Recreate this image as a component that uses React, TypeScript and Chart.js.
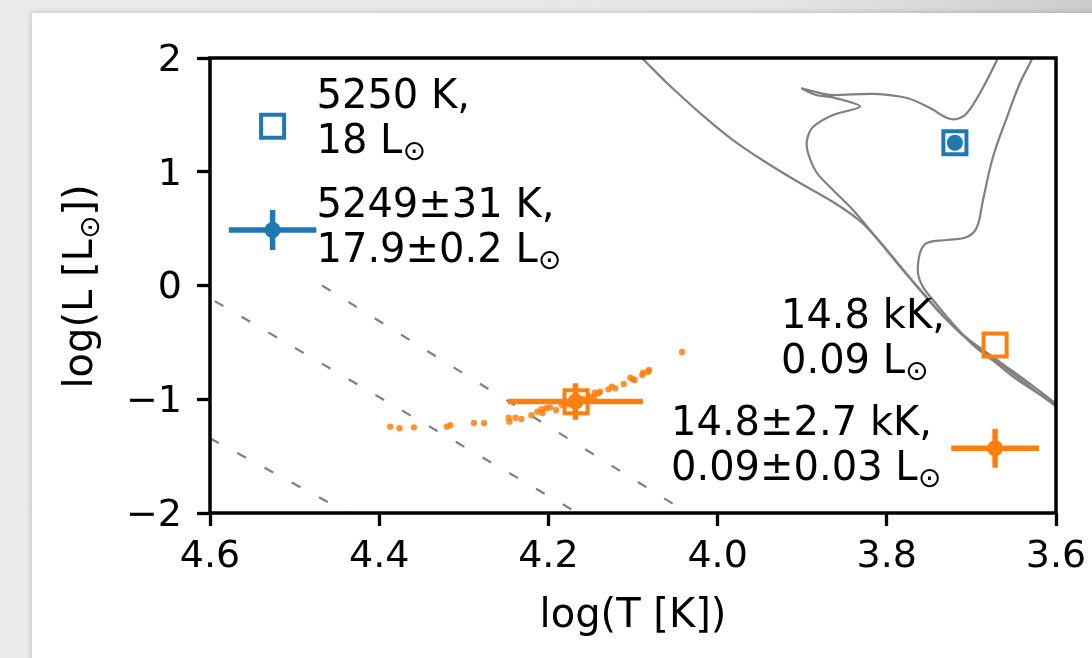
import React, { useEffect, useRef } from "react";
import { Chart, registerables } from "chart.js";

Chart.register(...registerables);

// ---------- axes ----------
const X_TICKS = [3.6, 3.8, 4.0, 4.2, 4.4, 4.6];
const Y_TICKS = [-2, -1, 0, 1, 2];
const X_TITLE = "log(T [K])";
const Y_TITLE = "log(L [L⊙])";

// ---------- evolutionary tracks [logT, logL] ----------
const TRACK_A: [number, number][] = [
  [4.0965, 2.053], [4.0882, 1.991], [4.0598, 1.78], [4.0208, 1.516], [3.9818, 1.279],
  [3.9416, 1.077], [3.9026, 0.901], [3.8636, 0.734], [3.8317, 0.567], [3.808, 0.382],
  [3.7844, 0.171], [3.7608, -0.04], [3.7336, -0.268], [3.7052, -0.462], [3.6662, -0.673],
  [3.6272, -0.884], [3.5976, -1.051],
];
const TRACK_B: [number, number][] = [
  [3.6674, 2.035], [3.6697, 1.982], [3.6898, 1.692], [3.7052, 1.516], [3.717, 1.464],
  [3.7288, 1.473], [3.7489, 1.56], [3.7761, 1.648], [3.8163, 1.684], [3.8671, 1.675],
  [3.8884, 1.71], [3.9002, 1.732], [3.8837, 1.675], [3.8636, 1.653], [3.8317, 1.574],
  [3.8636, 1.499], [3.8872, 1.393], [3.8943, 1.279], [3.8931, 1.165], [3.8825, 0.989],
  [3.8636, 0.84], [3.84, 0.664], [3.8199, 0.488], [3.8033, 0.338], [3.7809, 0.136],
  [3.7572, -0.066], [3.7312, -0.286], [3.704, -0.479], [3.6662, -0.69], [3.6272, -0.91],
  [3.5976, -1.077],
];
const TRACK_C: [number, number][] = [
  [3.6272, 2.035], [3.6284, 1.991], [3.6426, 1.78], [3.6579, 1.481], [3.6745, 1.13],
  [3.6863, 0.752], [3.6934, 0.514], [3.7052, 0.426], [3.7288, 0.4], [3.7525, 0.374],
  [3.7608, 0.286], [3.7631, 0.11], [3.7572, -0.013], [3.7454, -0.127], [3.7288, -0.277],
  [3.6981, -0.523], [3.6721, -0.673], [3.6485, -0.813], [3.5976, -1.059],
];

// ---------- dashed reference lines ----------
const REF_LINE_1: [number, number][] = [[4.6, -1.342], [4.437, -2.0]];
const REF_LINE_2: [number, number][] = [[4.626, 0.0], [4.1654, -2.0]];
const REF_LINE_3: [number, number][] = [[4.4676, 0.0], [4.0353, -2.0]];

// ---------- orange sample cloud ----------
const SAMPLE_T = [4.387, 4.376, 4.359, 4.32, 4.316, 4.288, 4.276, 4.247, 4.246, 4.239, 4.232, 4.22, 4.213, 4.208, 4.207, 4.202, 4.198, 4.191, 4.184, 4.178, 4.175, 4.159, 4.151, 4.145, 4.141, 4.146, 4.139, 4.129, 4.125, 4.121, 4.111, 4.103, 4.1, 4.098, 4.089, 4.088, 4.082, 4.081, 4.042];
const SAMPLE_L = [-1.241, -1.255, -1.247, -1.241, -1.229, -1.209, -1.209, -1.162, -1.197, -1.162, -1.174, -1.141, -1.109, -1.088, -1.121, -1.077, -1.071, -1.095, -1.051, -1.042, -1.033, -0.998, -0.978, -0.942, -0.948, -0.978, -0.934, -0.913, -0.89, -0.904, -0.866, -0.811, -0.825, -0.831, -0.787, -0.767, -0.758, -0.743, -0.585];

// ---------- input values (open squares) ----------
const TRUE_T = [3.7195, 4.1673];
const TRUE_L = [1.255, -1.0215];

// ---------- fitted values with errors ----------
const FIT_T = [3.7195, 4.168];
const FIT_L = [1.255, -1.02];
const FIT_DT = [0.0026, 0.0798];
const FIT_DL = [0.005, 0.161];

// ---------- key handles ----------
const KEY_SQUARE_T = [4.526, 3.672];
const KEY_SQUARE_L = [1.4, -0.523];
const KEY_ERR_T = [4.526, 3.672];
const KEY_ERR_L = [0.488, -1.431];
const KEY_ERR_DT = [0.0517, 0.0518];
const KEY_ERR_DL = [0.176, 0.171];

const SERIES_COLORS = ["#1f77b4", "#ff7f0e"];

// ---------- annotation texts ----------
const LABEL_LINES: string[][] = [
  ["5250 K,", "18 L⊙"],
  ["5249±31 K,", "17.9±0.2 L⊙"],
  ["14.8 kK,", "0.09 L⊙"],
  ["14.8±2.7 kK,", "0.09±0.03 L⊙"],
];
// layout: axes-fraction anchors (x from left, first baseline from top)
const LABEL_ANCHORS = [
  { fx: 0.1259, fy: 0.1105 },
  { fx: 0.1259, fy: 0.3501 },
  { fx: 0.6749, fy: 0.5941 },
  { fx: 0.5449, fy: 0.8286 },
];

const FONT = '"DejaVu Sans", "Liberation Sans", sans-serif';
const GRAY = "#808080";

function richWidth(ctx: CanvasRenderingContext2D, text: string, size: number) {
  const parts = text.split("⊙");
  let w = 0;
  parts.forEach((p, i) => {
    ctx.font = `${size}px ${FONT}`;
    w += ctx.measureText(p).width;
    if (i < parts.length - 1) {
      ctx.font = `${size * 0.7}px ${FONT}`;
      w += ctx.measureText("⊙").width;
    }
  });
  return w;
}

function drawRich(ctx: CanvasRenderingContext2D, text: string, x: number, y: number, size: number) {
  const parts = text.split("⊙");
  let cx = x;
  parts.forEach((p, i) => {
    ctx.font = `${size}px ${FONT}`;
    ctx.fillText(p, cx, y);
    cx += ctx.measureText(p).width;
    if (i < parts.length - 1) {
      ctx.font = `${size * 0.7}px ${FONT}`;
      const m = ctx.measureText("⊙");
      const a = m.actualBoundingBoxAscent;
      const d = m.actualBoundingBoxDescent;
      const yc = y - 2;
      ctx.fillText("⊙", cx, yc + (a - d) / 2);
      cx += m.width;
    }
  });
}

const decorPlugin = {
  id: "decor",
  afterDatasetsDraw(chart: any) {
    const { ctx, chartArea } = chart;
    const { left, top, right, bottom } = chartArea;
    ctx.save();
    // frame
    ctx.strokeStyle = "#000";
    ctx.lineWidth = 3.5;
    ctx.strokeRect(left, top, right - left, bottom - top);

    ctx.fillStyle = "#000";
    ctx.textAlign = "left";
    ctx.textBaseline = "alphabetic";
    const w = right - left;
    const h = bottom - top;
    LABEL_LINES.forEach((lines, i) => {
      const a = LABEL_ANCHORS[i];
      const x = left + a.fx * w;
      const y0 = top + a.fy * h;
      lines.forEach((ln, j) => drawRich(ctx, ln, x, y0 + j * 45, 40));
    });

    // x title
    const xw = richWidth(ctx, X_TITLE, 40);
    drawRich(ctx, X_TITLE, (left + right) / 2 - xw / 2, 627, 40);

    // y title (rotated)
    const yw = richWidth(ctx, Y_TITLE, 40);
    ctx.translate(92, (top + bottom) / 2 + 1);
    ctx.rotate(-Math.PI / 2);
    drawRich(ctx, Y_TITLE, -yw / 2, 0, 40);
    ctx.restore();
  },
};

export default function App() {
  const ref = useRef<HTMLCanvasElement>(null);

  useEffect(() => {
    const canvas = ref.current;
    if (!canvas) return;

    const toXY = (pts: [number, number][]) => pts.map(([x, y]) => ({ x, y }));
    const lineDs = (pts: [number, number][], extra: any = {}) => ({
      data: toXY(pts),
      showLine: true,
      pointRadius: 0,
      borderColor: GRAY,
      backgroundColor: GRAY,
      borderWidth: 2.2,
      fill: false,
      clip: 0,
      ...extra,
    });

    // listed bottom -> top
    const datasets: any[] = [];
    datasets.push(lineDs(REF_LINE_1, { borderDash: [10, 21] }));
    datasets.push(lineDs(REF_LINE_2, { borderDash: [10, 21] }));
    datasets.push(lineDs(REF_LINE_3, { borderDash: [10, 21] }));
    datasets.push(lineDs(TRACK_A, { tension: 0.35 }));
    datasets.push(lineDs(TRACK_B, { tension: 0.3 }));
    datasets.push(lineDs(TRACK_C, { tension: 0.35 }));

    datasets.push({
      data: SAMPLE_T.map((t, i) => ({ x: t, y: SAMPLE_L[i] })),
      pointRadius: 3.2,
      pointBorderWidth: 0,
      pointBackgroundColor: "rgba(255,127,14,0.85)",
      backgroundColor: "rgba(255,127,14,0.85)",
      borderWidth: 0,
    });

    const errBars = (T: number[], L: number[], DT: number[], DL: number[]) => {
      T.forEach((t, i) => {
        const c = SERIES_COLORS[i];
        datasets.push(
          lineDs(
            [
              [t - DT[i], L[i]],
              [t + DT[i], L[i]],
            ],
            { borderColor: c, borderWidth: 5.5, borderCapStyle: "butt" }
          )
        );
        datasets.push(
          lineDs(
            [
              [t, L[i] - DL[i]],
              [t, L[i] + DL[i]],
            ],
            { borderColor: c, borderWidth: 5.5, borderCapStyle: "butt" }
          )
        );
        datasets.push({
          data: [{ x: t, y: L[i] }],
          pointRadius: 8,
          pointBorderWidth: 0,
          pointBackgroundColor: c,
          backgroundColor: c,
        });
      });
    };
    errBars(FIT_T, FIT_L, FIT_DT, FIT_DL);
    errBars(KEY_ERR_T, KEY_ERR_L, KEY_ERR_DT, KEY_ERR_DL);

    const squares = (T: number[], L: number[]) => {
      T.forEach((t, i) => {
        datasets.push({
          data: [{ x: t, y: L[i] }],
          pointStyle: "rect",
          pointRadius: 16.3,
          pointBorderWidth: 4,
          pointBorderColor: SERIES_COLORS[i],
          pointBackgroundColor: "rgba(0,0,0,0)",
          borderColor: SERIES_COLORS[i],
          backgroundColor: "rgba(0,0,0,0)",
        });
      });
    };
    squares(TRUE_T, TRUE_L);
    squares(KEY_SQUARE_T, KEY_SQUARE_L);

    datasets.forEach((d, i) => {
      d.order = datasets.length - i;
    });

    const tickFont = { family: FONT, size: 38 };

    const chart = new Chart(canvas, {
      type: "scatter",
      data: { datasets },
      options: {
        animation: false,
        responsive: false,
        devicePixelRatio: 1,
        events: [],
        layout: { padding: { left: 0, top: 58, right: 36, bottom: 0 } },
        plugins: {
          legend: { display: false },
          tooltip: { enabled: false },
          title: { display: false },
        },
        scales: {
          x: {
            type: "linear",
            reverse: true,
            min: 3.6,
            max: 4.6,
            afterBuildTicks: (s: any) => {
              s.ticks = X_TICKS.map((v) => ({ value: v }));
            },
            afterFit: (s: any) => {
              s.height = 145;
            },
            ticks: {
              callback: (v: any) => Number(v).toFixed(1),
              font: tickFont,
              color: "#000",
              padding: 8,
              maxRotation: 0,
              autoSkip: false,
            },
            grid: {
              drawOnChartArea: false,
              drawTicks: true,
              tickLength: 13,
              tickWidth: 3.3,
              tickColor: "#000",
            },
            border: { display: false },
          },
          y: {
            type: "linear",
            min: -2,
            max: 2,
            afterBuildTicks: (s: any) => {
              s.ticks = Y_TICKS.map((v) => ({ value: v }));
            },
            afterFit: (s: any) => {
              s.width = 210;
            },
            ticks: {
              callback: (v: any) => (Number(v) < 0 ? "\u2212" + Math.abs(Number(v)) : String(v)),
              font: tickFont,
              color: "#000",
              padding: 15,
              labelOffset: 3,
              autoSkip: false,
            },
            grid: {
              drawOnChartArea: false,
              drawTicks: true,
              tickLength: 13,
              tickWidth: 3.3,
              tickColor: "#000",
            },
            border: { display: false },
          },
        },
      } as any,
      plugins: [decorPlugin],
    });

    return () => chart.destroy();
  }, []);

  return (
    <div
      style={{
        position: "fixed",
        left: 0,
        top: 0,
        width: 1092,
        height: 658,
        overflow: "hidden",
        background: "linear-gradient(90deg, #ecebe9 0%, #e7e6e4 70%, #cdcdcb 100%)",
      }}
    >
      <div
        style={{
          position: "absolute",
          left: 32,
          top: 13,
          right: -30,
          bottom: -30,
          background: "#ffffff",
          boxShadow: "0 0 6px rgba(0,0,0,0.22)",
        }}
      />
      <canvas
        ref={ref}
        width={1092}
        height={658}
        style={{ position: "absolute", left: 0, top: 0, width: 1092, height: 658 }}
      />
    </div>
  );
}
